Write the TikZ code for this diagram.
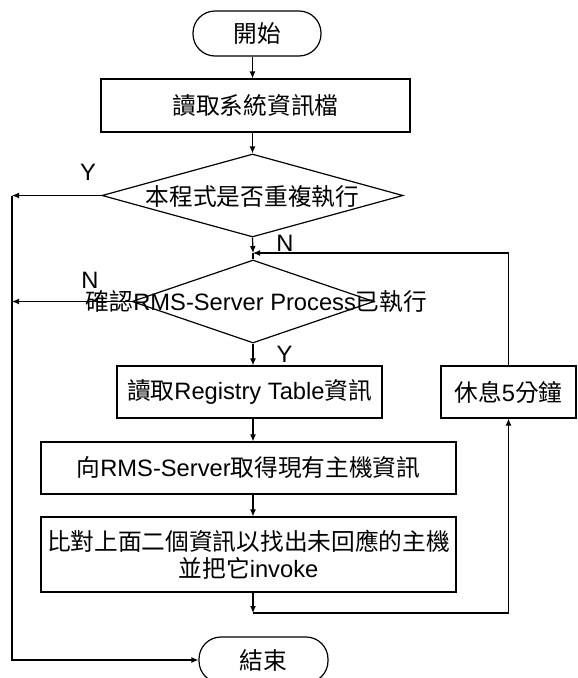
\documentclass[tikz,border=0pt]{standalone}
\usepackage{fontspec}
\setmainfont{Liberation Sans}
\newfontfamily\cjk{Noto Sans CJK TC}
\usetikzlibrary{shapes.geometric,arrows.meta}
\begin{document}
\begin{tikzpicture}[x=1pt,y=-1pt,
  every node/.style={font=\fontsize{23.7pt}{27pt}\selectfont, inner sep=0pt, text=black},
  procbox/.style={draw, rectangle, line width=1.2pt},
  termbox/.style={draw, rectangle, rounded corners=22pt, line width=1.2pt},
  decbox/.style={draw, diamond, line width=1.2pt},
  conn/.style={line width=1.2pt},
  arr/.style={conn, -{Latex[length=7pt,width=6pt]}},
  lbl/.style={font=\fontsize{23.7pt}{27pt}\selectfont}
]
\clip (0,0) rectangle (578,678);
\fill[white] (0,0) rectangle (578,678);

% nodes
\node[termbox, minimum width=128pt, minimum height=45pt] (start) at (257,33.5) {\cjk 開始};
\node[procbox, minimum width=309pt, minimum height=53pt] (box1) at (255.5,105.5) {\cjk 讀取系統資訊檔};
\node[decbox, minimum width=301pt, minimum height=83pt] (d1) at (252.5,195.5) {};
\node (d1t) at (252.5,197) {\cjk 本程式是否重複執行};
\node[decbox, minimum width=242pt, minimum height=83pt] (d2) at (253,301.5) {};
\node (d2t) at (256.5,302) {{\cjk 確認}RMS-Server Process{\cjk 已執行}};
\node[procbox, minimum width=265pt, minimum height=52pt] (box2) at (249.5,392) {{\cjk 讀取}Registry Table{\cjk 資訊}};
\node[procbox, minimum width=415pt, minimum height=52pt] (box3) at (248.5,468) {{\cjk 向}RMS-Server{\cjk 取得現有主機資訊}};
\node[procbox, minimum width=415pt, minimum height=75pt, align=center] (box4) at (248.5,554.5) {{\cjk 比對上面二個資訊以找出未回應的主機}\\{\cjk 並把它}invoke};
\node[procbox, minimum width=135pt, minimum height=52pt] (box5) at (508.5,392) {{\cjk 休息}5{\cjk 分鐘}};
\node[termbox, minimum width=129pt, minimum height=46pt] (end) at (263.5,660) {\cjk 結束};

% helper coordinates
\coordinate (M) at (253,253);
\coordinate (L1) at (12,195.5);
\coordinate (L2) at (12,301.5);
\coordinate (L3) at (12,660);
\coordinate (B) at (253,613);

% labels
\node[lbl] (ly1) at (88,172) {Y};
\node[lbl] (ln1) at (285,243) {N};
\node[lbl] (ln2) at (90,280) {N};
\node[lbl] (ly2) at (284.5,354.5) {Y};

% connectors
\draw[arr] (start.south -| d1.north) -- (box1.north -| d1.north);
\draw[arr] (box1.south -| d1.north) -- (d1.north);
\draw[arr] (d1.west) -- (L1);
\draw[arr] (L1) -- (L3) -- (end.west);
\draw[arr] (d2.west) -- (L2);
\draw[arr] (d1.south) -- (M);
\draw[conn] (M) -- (d2.north);
\draw[arr] (box5.north) -- (box5.north |- M) -- (M);
\draw[arr] (d2.south) -- (box2.north -| d2.south);
\draw[arr] (box2.south -| d2.south) -- (box3.north -| d2.south);
\draw[arr] (box3.south -| d2.south) -- (box4.north -| d2.south);
\draw[arr] (box4.south -| d2.south) -- (B);
\draw[arr] (B) -- (box5.south |- B) -- (box5.south);
\end{tikzpicture}
\end{document}
